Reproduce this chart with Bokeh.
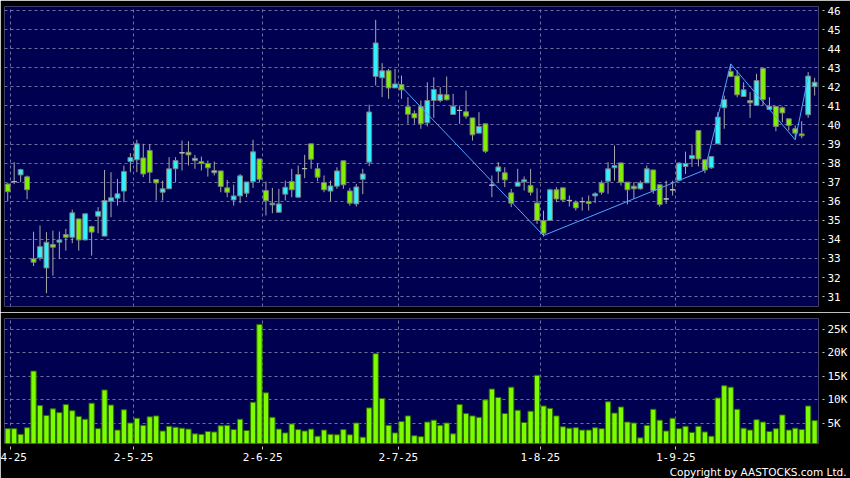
from bokeh.plotting import figure
from bokeh.layouts import column
from bokeh.models import ColumnDataSource, FixedTicker, Grid, Range1d, Title
from bokeh.embed import file_html
from bokeh.resources import INLINE

# ---------------- data ----------------
# first label is cut by the left edge in the reference, only "4-25" is visible
month_labels = ["4-25", "2-5-25", "2-6-25", "2-7-25", "1-8-25", "1-9-25"]
month_start_idx = [1, 20, 40, 61, 83, 104]

opens = [36.9, 37.03, 37.38, 37.28, 32.98, 33.03, 32.5, 33.73, 33.85, 34.25,
         34.11, 35.07, 33.97, 34.67, 35.21, 34.17, 36.0, 36.16, 36.53, 38.08,
         38.17, 38.27, 38.66, 37.14, 36.47, 36.65, 37.7, 38.54, 38.57, 38.13,
         38.08, 37.98, 37.49, 37.59, 36.7, 36.07, 36.28, 36.42, 37.03, 38.22,
         36.56, 35.81, 35.42, 36.37, 37.03, 36.21, 37.71, 39.01, 37.7, 36.98,
         36.53, 36.79, 38.12, 36.54, 35.86, 37.15, 38.05, 42.54, 42.47, 42.84,
         41.94, 42.12, 40.95, 40.6, 40.97, 40.11, 41.28, 41.28, 41.58, 40.55,
         40.76, 40.69, 40.37, 39.57, 40.06, 36.84, 37.57, 37.49, 36.44, 36.79,
         37.02, 36.82, 35.91, 34.99, 34.99, 36.6, 36.7, 36.04, 35.95, 35.98,
         35.98, 36.28, 36.96, 37.05, 37.75, 38.01, 37.0, 36.79, 36.65, 36.96,
         37.64, 36.86, 36.12, 36.6, 37.1, 37.82, 38.23, 39.71, 38.17, 37.75,
         39.01, 40.9, 42.8, 42.57, 41.49, 41.28, 41.02, 42.97, 40.81, 40.97,
         40.9, 40.32, 39.8, 39.53, 40.53, 42.01]
highs = [36.95, 38.05, 37.7, 37.35, 34.4, 34.73, 34.38, 34.46, 34.41, 34.55,
         35.56, 35.1, 35.34, 34.72, 35.69, 37.64, 37.52, 37.17, 37.87, 38.52,
         39.22, 39.01, 39.0, 37.14, 37.08, 38.31, 38.31, 39.18, 39.15, 38.43,
         38.34, 38.13, 38.08, 37.59, 37.12, 36.87, 37.43, 37.01, 39.22, 38.22,
         37.03, 36.7, 36.65, 37.08, 37.7, 37.87, 38.43, 39.01, 37.96, 37.35,
         37.08, 37.78, 38.12, 36.7, 36.91, 37.7, 41.06, 45.51, 43.24, 42.94,
         42.94, 42.59, 41.46, 40.76, 41.28, 42.24, 42.5, 41.98, 42.54, 41.63,
         41.02, 41.8, 40.37, 40.67, 40.06, 37.35, 38.05, 37.78, 36.65, 37.7,
         37.3, 37.7, 36.68, 35.51, 36.65, 36.74, 36.7, 36.3, 36.04, 36.21,
         36.3, 36.47, 37.08, 38.05, 38.92, 38.01, 37.0, 37.0, 37.08, 37.87,
         37.64, 36.86, 37.08, 37.08, 38.05, 38.6, 39.01, 39.71, 38.17, 38.34,
         40.67, 41.54, 43.2, 42.85, 42.24, 41.72, 42.68, 42.97, 41.45, 40.97,
         40.97, 40.32, 39.97, 40.2, 42.77, 42.47]
lows = [36.0, 36.9, 37.0, 36.1, 32.6, 32.9, 31.18, 32.1, 32.98, 33.41,
        33.8, 33.41, 33.95, 33.15, 34.32, 34.17, 35.16, 35.77, 35.95, 37.52,
        37.52, 37.26, 37.0, 36.04, 36.04, 36.65, 37.0, 37.61, 37.87, 37.7,
        37.61, 37.29, 37.35, 36.47, 36.21, 35.77, 35.9, 36.21, 36.7, 37.0,
        35.25, 35.37, 35.42, 36.04, 36.21, 36.21, 37.21, 37.7, 37.05, 36.47,
        36.0, 36.65, 36.65, 35.77, 35.72, 36.37, 37.84, 42.07, 41.46, 41.37,
        41.94, 41.37, 40.06, 40.06, 39.8, 39.92, 40.37, 41.19, 41.28, 40.55,
        40.06, 40.32, 39.18, 39.57, 38.52, 36.21, 37.0, 36.74, 35.69, 36.79,
        36.56, 36.3, 34.81, 34.15, 34.99, 35.95, 35.95, 35.72, 35.51, 35.51,
        35.51, 35.9, 36.35, 36.39, 37.08, 36.82, 35.83, 36.12, 36.6, 36.96,
        36.39, 35.72, 35.86, 36.3, 37.1, 37.43, 37.8, 37.82, 37.47, 37.7,
        39.01, 39.8, 42.5, 41.45, 41.49, 40.37, 41.02, 41.02, 40.81, 39.67,
        40.14, 39.71, 39.22, 39.3, 40.37, 41.54]
closes = [36.5, 37.03, 37.66, 36.6, 32.8, 33.62, 33.85, 33.59, 33.97, 34.11,
          35.39, 33.97, 35.34, 34.38, 35.46, 36.04, 36.18, 36.39, 37.56, 38.29,
          39.01, 37.43, 37.52, 36.96, 36.65, 37.7, 38.13, 38.54, 38.43, 38.25,
          37.98, 37.75, 37.61, 36.77, 36.47, 36.28, 37.33, 37.01, 38.59, 37.15,
          36.02, 35.9, 35.86, 36.73, 36.6, 37.4, 37.71, 38.2, 37.26, 36.6,
          36.8, 37.59, 36.86, 35.9, 36.75, 37.43, 40.68, 44.3, 42.84, 41.94,
          42.15, 41.84, 40.56, 40.37, 40.06, 41.28, 41.86, 41.6, 41.32, 40.98,
          40.76, 40.46, 39.48, 39.92, 38.62, 36.84, 37.8, 37.12, 35.9, 37.0,
          37.12, 36.47, 34.99, 34.32, 36.6, 36.12, 36.07, 36.04, 35.65, 35.98,
          35.88, 36.39, 36.47, 37.7, 37.87, 37.0, 36.6, 36.65, 36.96, 37.7,
          36.56, 35.83, 36.12, 36.6, 38.0, 37.98, 38.4, 38.22, 37.64, 38.34,
          40.41, 41.33, 42.54, 41.58, 41.84, 41.16, 42.33, 41.33, 40.98, 39.92,
          40.63, 39.97, 39.57, 39.43, 42.56, 42.24]
volume_k = [3.9, 3.9, 2.7, 4.1, 16.1, 8.8, 6.7, 8.1, 7.3, 9.0,
            7.7, 6.5, 5.9, 9.3, 3.9, 12.1, 8.9, 3.6, 7.9, 5.1,
            6.1, 4.6, 6.4, 6.6, 3.4, 4.4, 4.2, 4.0, 3.8, 2.8,
            2.7, 3.3, 3.2, 4.5, 4.6, 3.7, 5.9, 3.5, 9.5, 26.0,
            11.5, 6.3, 3.8, 3.0, 4.9, 3.7, 3.4, 3.8, 2.3, 3.6,
            2.7, 2.6, 3.7, 2.6, 5.1, 2.1, 8.3, 19.8, 10.3, 4.6,
            3.0, 5.4, 6.6, 2.4, 2.2, 5.3, 5.7, 4.6, 5.1, 2.8,
            9.0, 7.1, 6.6, 6.3, 10.0, 12.3, 10.5, 7.1, 12.7, 7.8,
            5.2, 7.6, 15.2, 8.7, 8.2, 6.6, 4.3, 4.0, 4.1, 3.6,
            3.6, 4.1, 3.9, 9.6, 7.2, 8.5, 5.3, 5.1, 1.95, 4.6,
            8.0, 5.7, 3.4, 6.1, 3.9, 4.4, 3.1, 4.4, 3.2, 2.3,
            10.4, 13.0, 12.7, 8.0, 4.0, 3.6, 5.8, 5.3, 3.3, 3.9,
            6.8, 3.6, 4.0, 3.7, 8.7, 5.6]
zigzag_idx = [61, 83, 108, 112, 122, 124]
zigzag_val = [42.0, 34.2, 37.64, 43.2, 39.22, 42.5]

price_ticks = list(range(31, 47))
volume_ticks = [5, 10, 15, 20, 25]
volume_tick_labels = ["5K", "10K", "15K", "20K", "25K"]

# ---------------- styles ----------------
NAVY = "#000050"
BLACK = "#000000"
CYAN = "#33F0FF"
GREEN = "#80F000"
DOJI = "#B4B4B4"
WICK = "#A8A8A8"
EDGE = "#7C7C7C"
GRID = "#7070A0"
ZIG = "#4DA6FF"
VOL_FILL = "#7CFC00"
VOL_EDGE = "#2F6A00"
LABEL_FONT = "DejaVu Sans Mono"

n = len(opens)
xs = [i + 0.5 for i in range(n)]
tops = [max(o, c) for o, c in zip(opens, closes)]
bottoms = [min(o, c) for o, c in zip(opens, closes)]
fills = [CYAN if c > o else (GREEN if c < o else DOJI) for o, c in zip(opens, closes)]
edges = [EDGE if c != o else DOJI for o, c in zip(opens, closes)]

candles = ColumnDataSource(dict(x=xs, high=highs, low=lows, top=tops, bottom=bottoms,
                                fill=fills, edge=edges))
doji_rows = [i for i in range(n) if opens[i] == closes[i]]
dojis = ColumnDataSource(dict(x0=[xs[i] - 0.38 for i in doji_rows],
                              x1=[xs[i] + 0.38 for i in doji_rows],
                              y=[closes[i] for i in doji_rows]))
vols = ColumnDataSource(dict(x=xs, v=volume_k))

x_range = Range1d(0, n + 0.1)


def style_axis(ax, ticks, overrides=None):
    ax.ticker = FixedTicker(ticks=ticks)
    ax.axis_line_color = None
    ax.major_tick_line_color = "#C8C8C8"
    ax.major_tick_in = -4
    ax.major_tick_out = 6
    ax.minor_tick_line_color = None
    ax.major_label_text_color = "#FFFFFF"
    ax.major_label_text_font = LABEL_FONT
    ax.major_label_text_font_size = "11px"
    ax.major_label_standoff = 3
    if overrides:
        ax.major_label_overrides = overrides


def add_grids(p, yticks):
    p.add_layout(Grid(dimension=0, ticker=FixedTicker(ticks=month_start_idx),
                      grid_line_color=GRID, grid_line_dash="3 3", grid_line_width=1))
    p.add_layout(Grid(dimension=1, ticker=FixedTicker(ticks=yticks),
                      grid_line_color=GRID, grid_line_dash="3 3", grid_line_width=1))


# ---------------- price panel ----------------
p1 = figure(width=850, height=312, x_range=x_range, y_range=Range1d(30.48, 46.21),
            title=None, output_backend="svg", toolbar_location=None,
            x_axis_location=None, y_axis_location="right",
            min_border_left=4, min_border_right=32, min_border_top=6, min_border_bottom=6,
            background_fill_color=NAVY, border_fill_color=BLACK, outline_line_color=None)
p1.grid.visible = False
add_grids(p1, price_ticks)
style_axis(p1.yaxis[0], price_ticks)

p1.segment(x0="x", y0="high", x1="x", y1="low", source=candles, line_color=WICK, line_width=1)
p1.vbar(x="x", top="top", bottom="bottom", width=0.75, source=candles,
        fill_color="fill", line_color="edge", line_width=1)
p1.segment(x0="x0", y0="y", x1="x1", y1="y", source=dojis, line_color=DOJI, line_width=1)
p1.line([i + 0.5 for i in zigzag_idx], zigzag_val, line_color=ZIG, line_width=1)

# ---------------- volume panel ----------------
p2 = figure(width=850, height=166, x_range=x_range, y_range=Range1d(0.75, 27.25),
            title=None, output_backend="svg", toolbar_location=None,
            x_axis_location="below", y_axis_location="right",
            min_border_left=4, min_border_right=32, min_border_top=6, min_border_bottom=35,
            background_fill_color=NAVY, border_fill_color=BLACK, outline_line_color=None)
p2.grid.visible = False
add_grids(p2, volume_ticks)
style_axis(p2.yaxis[0], volume_ticks, dict(zip(volume_ticks, volume_tick_labels)))
style_axis(p2.xaxis[0], month_start_idx, dict(zip(month_start_idx, month_labels)))
p2.xaxis[0].major_tick_in = -3

p2.vbar(x="x", top="v", bottom=0, width=0.82, source=vols,
        fill_color=VOL_FILL, line_color=VOL_EDGE, line_width=1)

p2.add_layout(Title(text="Copyright by AASTOCKS.com Ltd.", align="right",
                    text_color="#FFFFFF", text_font="DejaVu Sans",
                    text_font_size="10.5px", text_font_style="normal",
                    offset=-28, standoff=0), "below")

layout = column(p1, p2, spacing=0)
open("out.html", "w").write(file_html(layout, INLINE))
